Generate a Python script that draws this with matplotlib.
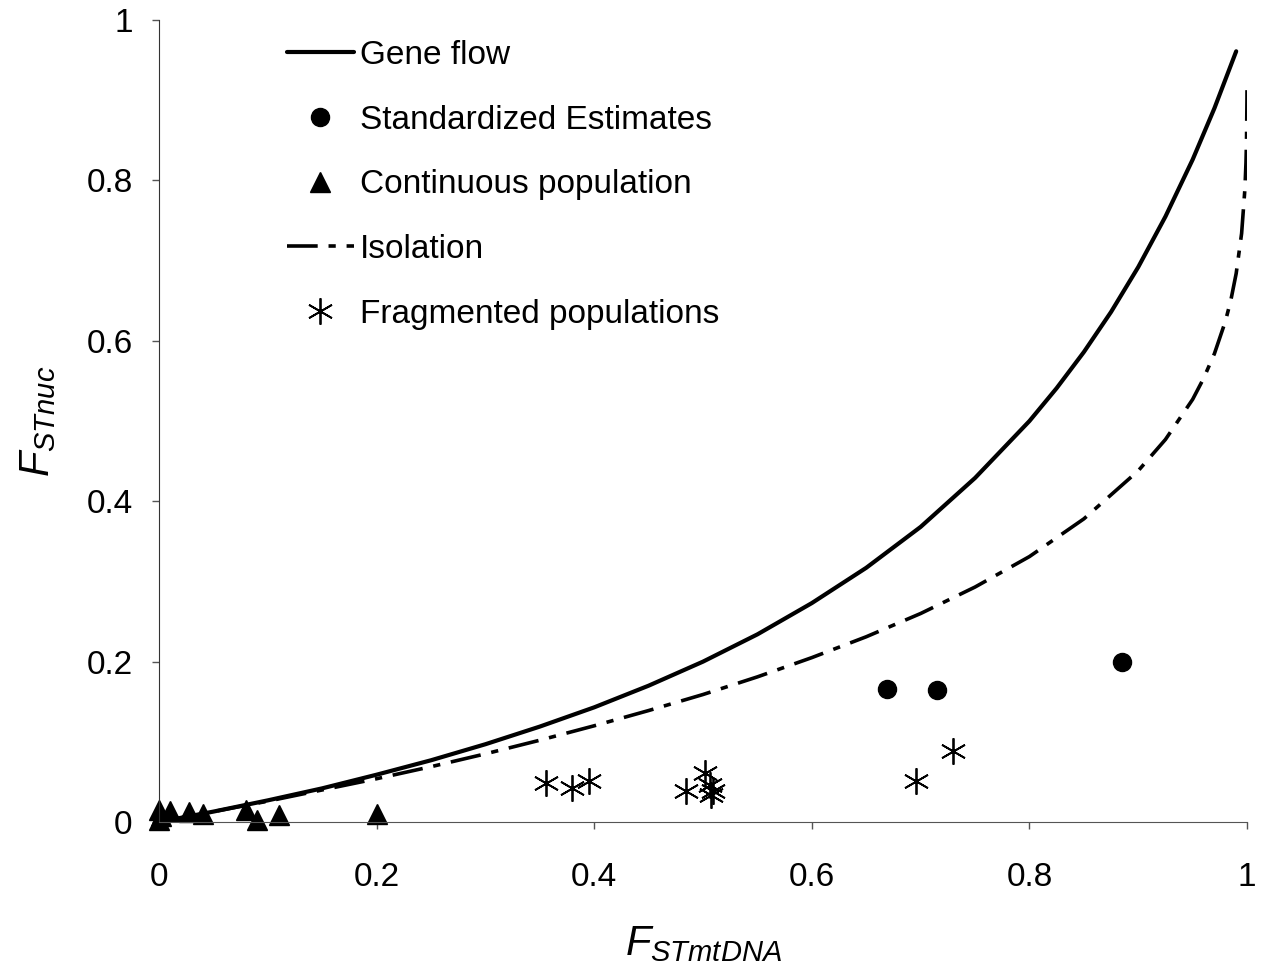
import matplotlib
matplotlib.use("Agg")
import matplotlib.pyplot as plt

plt.rcParams['font.family'] = ['Liberation Sans', 'DejaVu Sans']
plt.rcParams['mathtext.fontset'] = 'custom'
plt.rcParams['mathtext.it'] = 'Liberation Sans:italic'
plt.rcParams['mathtext.rm'] = 'Liberation Sans'

# curves
gene_x = [0.0, 0.05, 0.1, 0.15, 0.2, 0.25, 0.3, 0.35, 0.4, 0.45, 0.5, 0.55,
          0.6, 0.65, 0.7, 0.75, 0.8, 0.825, 0.85, 0.875, 0.9, 0.925, 0.95, 0.97, 0.99]
gene_y = [0.0, 0.013, 0.027, 0.042, 0.059, 0.077, 0.097, 0.119, 0.143, 0.170,
          0.200, 0.234, 0.273, 0.317, 0.368, 0.429, 0.500, 0.541, 0.586, 0.636,
          0.692, 0.755, 0.826, 0.890, 0.961]

iso_x = [0.0, 0.05, 0.1, 0.15, 0.2, 0.25, 0.3, 0.35, 0.4, 0.45, 0.5, 0.55, 0.6,
         0.65, 0.7, 0.75, 0.8, 0.85, 0.9, 0.925, 0.95, 0.96, 0.97, 0.98, 0.985,
         0.99, 0.995, 0.998, 0.999, 0.9995, 0.9999, 1.0]
iso_y = [0.0, 0.013, 0.026, 0.040, 0.054, 0.069, 0.085, 0.102, 0.120, 0.139,
         0.159, 0.181, 0.205, 0.231, 0.260, 0.293, 0.331, 0.378, 0.438, 0.477,
         0.527, 0.553, 0.584, 0.624, 0.650, 0.684, 0.734, 0.789, 0.822, 0.850,
         0.900, 0.926]

# point sets
est_x = [0.669, 0.715, 0.885]
est_y = [0.166, 0.165, 0.200]

cont_x = [0.0, 0.0, 0.002, 0.01, 0.028, 0.04, 0.08, 0.09, 0.11, 0.2]
cont_y = [0.015, 0.002, 0.008, 0.014, 0.012, 0.010, 0.015, 0.003, 0.009, 0.010]

frag_x = [0.356, 0.380, 0.395, 0.484, 0.502, 0.506, 0.509, 0.507, 0.696, 0.730]
frag_y = [0.049, 0.042, 0.051, 0.039, 0.061, 0.046, 0.039, 0.034, 0.051, 0.088]

ticks = [0, 0.2, 0.4, 0.6, 0.8, 1]
tick_labels = ['0', '0.2', '0.4', '0.6', '0.8', '1']

fig = plt.figure(figsize=(12.64, 9.72), dpi=100)
ax = fig.add_axes([0.1258, 0.1543, 0.8608, 0.8251])

ax.plot(gene_x, gene_y, color='black', lw=3, label='Gene flow', solid_capstyle='round')
ax.plot(est_x, est_y, 'o', color='black', ms=13, label='Standardized Estimates', clip_on=False)
ax.plot(cont_x, cont_y, '^', color='black', ms=15, label='Continuous population', clip_on=False)
ax.plot(iso_x, iso_y, color='black', lw=2.6, dashes=(8.5, 3, 2, 3), label='Isolation')
ax.plot(frag_x, frag_y, linestyle='none', marker=(6, 2, 0), color='black', ms=19,
        mew=1.3, label='Fragmented populations', clip_on=False)

ax.set_xlim(0, 1)
ax.set_ylim(0, 1)
ax.set_xticks(ticks)
ax.set_xticklabels(tick_labels)
ax.set_yticks(ticks)
ax.set_yticklabels(tick_labels)
ax.tick_params(axis='x', direction='out', length=5, width=1, color='#555555',
               labelsize=24, pad=24)
ax.tick_params(axis='y', direction='out', length=5, width=1, color='#555555',
               labelsize=24, pad=14)
for s in ['top', 'right']:
    ax.spines[s].set_visible(False)
ax.spines['bottom'].set_color('#555555')
ax.spines['left'].set_color('#333333')

ax.set_xlabel(r'$F_{STmtDNA}$', fontsize=30, labelpad=22)
ax.set_ylabel(r'$F_{STnuc}$', fontsize=30, labelpad=20)

ax.legend(loc='upper left', bbox_to_anchor=(0.1176, 0.975), frameon=False, fontsize=24,
          borderaxespad=0, borderpad=0, handlelength=2.0, handletextpad=0.2,
          labelspacing=1.01, numpoints=1)

fig.savefig('out.png', dpi=100)
